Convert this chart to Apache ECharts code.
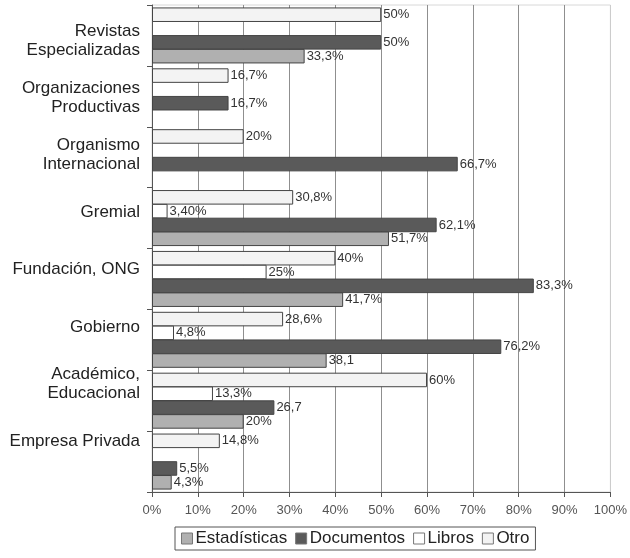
<!DOCTYPE html>
<html>
<head>
<meta charset="utf-8">
<script src="https://cdn.jsdelivr.net/npm/echarts@6/dist/echarts.min.js"></script>
<style>
  html, body { margin: 0; padding: 0; background: #fff; }
  #chart { width: 630px; height: 558px; }
</style>
</head>
<body>
<div id="chart"></div>
<script>
// Categories, bottom to top
var categories = ['Empresa Privada', 'Académico,\nEducacional', 'Gobierno', 'Fundación, ONG',
  'Gremial', 'Organismo\nInternacional', 'Organizaciones\nProductivas', 'Revistas\nEspecializadas'];

// Percent values per source type (null = no bar)
var estadisticas = [4.3, 20, 38.1, 41.7, 51.7, null, null, 33.3];
var documentos   = [5.5, 26.7, 76.2, 83.3, 62.1, 66.7, 16.7, 50];
var libros       = [null, 13.3, 4.8, 25, 3.4, null, null, null];
var otro         = [14.8, 60, 28.6, 40, 30.8, 20, 16.7, 50];

// Value label texts as printed next to each bar
var estadisticasLabels = ['4,3%', '20%', '38,1', '41,7%', '51,7%', '', '', '33,3%'];
var documentosLabels   = ['5,5%', '26,7', '76,2%', '83,3%', '62,1%', '66,7%', '16,7%', '50%'];
var librosLabels       = ['', '13,3%', '4,8%', '25%', '3,40%', '', '', ''];
var otroLabels         = ['14,8%', '60%', '28,6%', '40%', '30,8%', '20%', '16,7%', '50%'];

var xTicks = [0, 10, 20, 30, 40, 50, 60, 70, 80, 90, 100];

var labelFont = "'Liberation Sans Narrow', 'Liberation Sans', Arial, sans-serif";
var mainFont = "'Liberation Sans', Arial, sans-serif";

function makeSeries(name, values, texts, color) {
  return {
    name: name,
    type: 'bar',
    xAxisIndex: 0,
    yAxisIndex: 0,
    barCategoryGap: '8%',
    barGap: '-5%',
    data: values.map(function (v) { return v === null ? '-' : v; }),
    itemStyle: { color: color, borderColor: '#444', borderWidth: 1 },
    label: {
      show: true,
      position: 'right',
      distance: 2,
      fontFamily: labelFont,
      fontSize: 13,
      color: '#333',
      formatter: function (p) { return texts[p.dataIndex]; }
    }
  };
}

var chart = echarts.init(document.getElementById('chart'), null, { renderer: 'canvas' });

var splitColors = xTicks.map(function (t) { return t === 100 ? '#cccccc' : '#8f8f8f'; });

chart.setOption({
  animation: false,
  backgroundColor: '#fff',
  textStyle: { fontFamily: mainFont },
  grid: [
    { left: 152, right: 13, top: 5, bottom: 66, show: true, borderColor: '#d8d8d8', borderWidth: 1 },
    // label band for the category names
    { left: 152, right: 13, top: 12, height: 458 }
  ],
  xAxis: [
    {
      type: 'value', gridIndex: 0, min: 0, max: 100, interval: 10,
      axisLine: { show: true, lineStyle: { color: '#555' } },
      axisTick: { show: true, length: 5, lineStyle: { color: '#555' } },
      axisLabel: { formatter: '{value}%', color: '#555', fontSize: 13, margin: 12, fontFamily: mainFont },
      splitLine: { show: true, lineStyle: { color: splitColors, width: 1 } }
    },
    { type: 'value', gridIndex: 1, min: 0, max: 100, show: false }
  ],
  yAxis: [
    {
      type: 'category', gridIndex: 0, data: categories,
      axisLine: { show: true, lineStyle: { color: '#555' } },
      axisTick: { show: true, length: 5, lineStyle: { color: '#555' } },
      axisLabel: { show: false },
      splitLine: { show: false }
    },
    {
      type: 'category', gridIndex: 1, data: categories,
      axisLine: { show: false }, axisTick: { show: false },
      axisLabel: { show: true, color: '#222', fontSize: 17, lineHeight: 19, margin: 12, fontFamily: mainFont, align: 'right' }
    }
  ],
  legend: {
    data: ['Estadísticas', 'Documentos', 'Libros', 'Otro'],
    icon: 'rect',
    left: 175, top: 527,
    borderColor: '#555', borderWidth: 1,
    padding: [3, 6, 3, 6],
    itemGap: 8, itemWidth: 11, itemHeight: 11,
    itemStyle: { borderColor: '#777', borderWidth: 1 },
    textStyle: { fontSize: 17, color: '#222', fontFamily: mainFont, padding: [0, 0, 0, -2] }
  },
  series: [
    makeSeries('Otro', otro, otroLabels, '#f3f3f3'),
    makeSeries('Libros', libros, librosLabels, '#ffffff'),
    makeSeries('Documentos', documentos, documentosLabels, '#5a5a5a'),
    makeSeries('Estadísticas', estadisticas, estadisticasLabels, '#b0b0b0')
  ]
});
</script>
</body>
</html>
